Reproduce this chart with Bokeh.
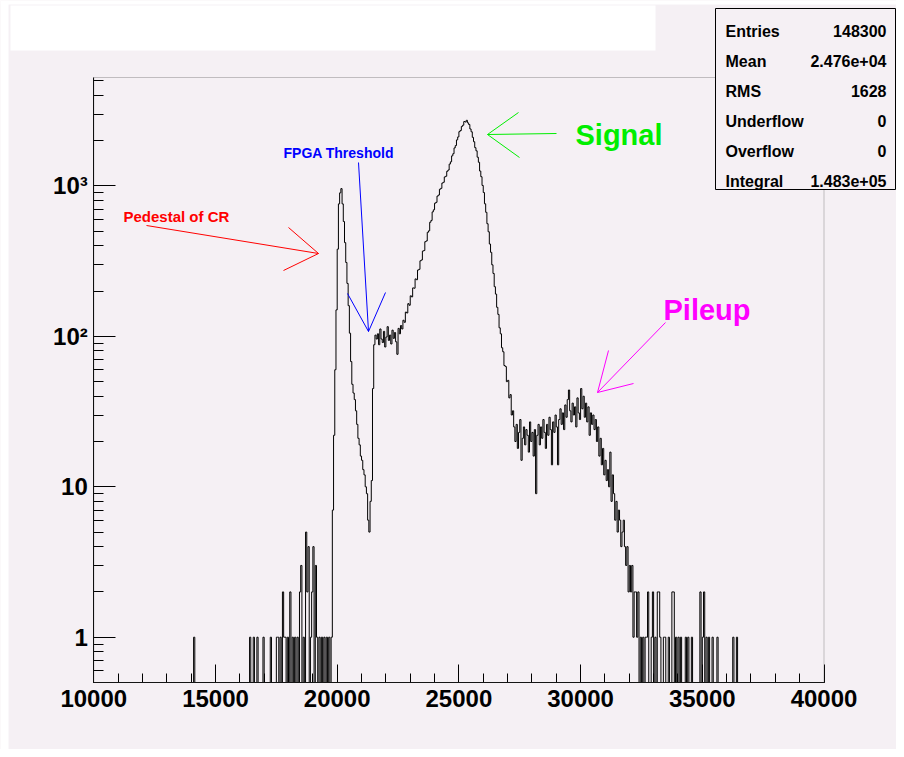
import numpy as np
from bokeh.plotting import figure
from bokeh.models import Range1d, FixedTicker, Label, Arrow, BoxAnnotation
from bokeh.embed import file_html
from bokeh.resources import INLINE

# ---------------- data ----------------
x_start, x_end = 10000, 40000
y_low, y_high = 0.5, 5260
bin_width = 50

# sparse left tail: bin low edges and counts
tail_low_edges = [14100, 16400, 16550, 16700, 16950, 17250, 17500, 17550, 17650, 17750,
                  17800, 17850, 17950, 18050, 18150, 18250, 18350, 18450, 18500, 18600,
                  18700, 18750, 18800, 18900, 18950, 19000, 19100, 19150, 19250, 19350,
                  19450, 19550, 19650]
tail_low_counts = [1, 1, 1, 1, 1, 1, 1, 1, 1, 2,
                   1, 1, 1, 2, 1, 1, 1, 2, 3, 1,
                   5, 2, 4, 1, 2, 4, 3, 1, 1, 1,
                   1, 1, 1]

# contiguous core, starting at this bin edge
core_first_edge = 19750
counts_pedestal = [1, 7, 22, 60, 150, 380, 760, 900, 960, 760,
                   580, 420, 310, 225, 160, 105, 68, 48, 42, 38,
                   32, 26, 21, 19, 16, 15, 13, 12, 10, 9,
                   6, 5, 8, 11, 45, 88, 102, 96]
counts_plateau = [104, 88, 112, 96, 91, 108, 85, 99, 116, 94,
                  102, 89, 110, 97, 106, 92, 76, 113, 104, 118]
counts_signal = [112, 128, 124, 145, 143, 165, 161, 186, 183, 210,
                 209, 241, 238, 276, 279, 318, 322, 369, 372, 426,
                 431, 492, 503, 574, 590, 672, 694, 768, 778, 856,
                 870, 951, 964, 1045, 1058, 1148, 1160, 1252, 1276, 1398,
                 1447, 1585, 1638, 1790, 1855, 2024, 2118, 2296, 2338, 2487,
                 2534, 2680, 2662, 2731, 2627, 2561, 2392, 2291, 2104, 1968,
                 1797, 1712, 1553, 1437, 1256, 1152, 1008, 904, 761, 668,
                 561, 496, 411, 362, 299, 262, 214, 191, 156, 140,
                 114, 104, 84, 79, 64, 63, 50, 51, 39, 41,
                 30, 32, 25]
counts_valley = [20, 26, 18, 23, 28, 15, 21, 25, 19, 24,
                 22, 17, 27, 20, 23, 16, 24, 9, 22, 26,
                 19, 25, 21, 28, 23, 18, 26, 22, 29, 24,
                 14, 27, 23, 30, 25, 14]
counts_pileup = [28, 33, 26, 31, 24, 35, 29, 38, 44, 32,
                 27, 36, 30, 34, 25, 39, 31, 28, 45, 33,
                 40, 29, 36, 27, 34, 22, 31, 26, 30, 24,
                 28, 20]
counts_falloff = [25, 16, 21, 14, 18, 12, 15, 11, 13, 10,
                  17, 8, 12, 9, 6, 8, 5, 7, 6, 4,
                  5, 6, 4, 3, 4, 2, 3, 2, 3, 1,
                  2]

# sparse right tail
tail_high_edges = [32250, 32300, 32350, 32450, 32550, 32650, 32700, 32750, 32900, 32950,
                   33050, 33150, 33200, 33250, 33400, 33450, 33600, 33750, 33800, 33900,
                   34000, 34100, 34300, 34400, 34550, 34900, 35000, 35050, 35150, 35250,
                   35400, 35600, 36250, 36400]
tail_high_counts = [2, 1, 2, 1, 1, 1, 1, 2, 1, 2,
                    1, 2, 2, 1, 1, 1, 1, 2, 2, 1,
                    1, 1, 1, 1, 1, 2, 1, 2, 1, 1,
                    1, 1, 1, 1]

x_tick_values = [10000, 15000, 20000, 25000, 30000, 35000, 40000]
x_tick_labels = ["10000", "15000", "20000", "25000", "30000", "35000", "40000"]
y_tick_values = [1, 10, 100, 1000]
y_tick_labels = ["1", "10", "10\u00b2", "10\u00b3"]

stats_names = ["Entries", "Mean", "RMS", "Underflow", "Overflow", "Integral"]
stats_values = ["148300", "2.476e+04", "1628", "0", "0", "1.483e+05"]

# ---------------- build the histogram ----------------
n_bins = (x_end - x_start) // bin_width
counts = np.zeros(n_bins)
for e, c in zip(tail_low_edges, tail_low_counts):
    counts[(e - x_start) // bin_width] = c
core = counts_pedestal + counts_plateau + counts_signal + counts_valley + counts_pileup + counts_falloff
i0 = (core_first_edge - x_start) // bin_width
counts[i0:i0 + len(core)] = core
for e, c in zip(tail_high_edges, tail_high_counts):
    counts[(e - x_start) // bin_width] = c

edges = x_start + bin_width * np.arange(n_bins + 1)
ys = np.where(counts > 0, counts, y_low)
ys = np.append(ys, ys[-1])

# ---------------- layout (canvas pixels) ----------------
BG = "#f5f0f4"
W, H = 896, 749
PL, PR, PT, PB = 93.3, 823.5, 77.0, 682.0      # inner plotting frame in canvas px

# the Bokeh frame covers the whole canvas; ranges extended so that the data
# range lands on the inner frame
ux = (x_end - x_start) / (PR - PL)
xr = Range1d(x_start - PL * ux, x_end + (W - PR) * ux)
ly0, ly1 = np.log10(y_low), np.log10(y_high)
uy = (ly1 - ly0) / (PB - PT)
yr = Range1d(10 ** (ly0 - (H - PB) * uy), 10 ** (ly1 + PT * uy))

FONT = "Liberation Sans"

p = figure(width=W, height=H, x_range=xr, y_range=yr, y_axis_type="log",
           output_backend="svg", toolbar_location=None,
           min_border=0, min_border_left=0, min_border_right=0,
           min_border_top=0, min_border_bottom=0,
           background_fill_color=BG, border_fill_color=BG)
p.title.visible = False
p.grid.visible = False
p.outline_line_color = None

# white page strips and empty title box
def sx(X):
    return X
def sy(Y):
    return H - Y

def box(x0, y0, x1, y1, fill, line, fill_alpha=1.0):
    p.add_layout(BoxAnnotation(left=sx(x0), right=sx(x1), top=sy(y0), bottom=sy(y1),
                               left_units="screen", right_units="screen",
                               top_units="screen", bottom_units="screen",
                               fill_color=fill, fill_alpha=fill_alpha,
                               line_color=line if line else "black",
                               line_width=1, line_alpha=1 if line else 0))

box(0, 0, 8, H, "white", None)
box(0, 0, W, 4, "white", None)
box(10, 5, 655, 50, "white", None)

# inner frame (top / right edges)
p.add_layout(BoxAnnotation(left=x_start, right=x_end, bottom=y_low, top=y_high,
                           fill_alpha=0, line_color="#444444", line_width=1))

p.step(x=edges, y=ys, mode="after", line_color="black", line_width=1)

# x axis
xa = p.xaxis[0]
xa.fixed_location = y_low
xa.bounds = (x_start, x_end)
xa.ticker = FixedTicker(ticks=x_tick_values,
                        minor_ticks=list(range(x_start, x_end + 1, 1000)))
xa.major_label_overrides = {v: t for v, t in zip(x_tick_values, x_tick_labels)}
xa.major_tick_in, xa.major_tick_out = 18, 0
xa.minor_tick_in, xa.minor_tick_out = 9, 0
xa.major_label_standoff = 7
xa.major_label_text_font = FONT
xa.major_label_text_font_style = "bold"
xa.major_label_text_font_size = "24px"
xa.major_label_text_color = "black"
xa.axis_line_color = "black"

# y axis
ya = p.yaxis[0]
ya.fixed_location = x_start
ya.bounds = (y_low, y_high)
minor_y = [m * 10 ** k for k in range(-1, 4) for m in range(2, 10) if y_low <= m * 10 ** k <= y_high]
ya.ticker = FixedTicker(ticks=y_tick_values, minor_ticks=minor_y)
ya.major_label_overrides = {v: t for v, t in zip(y_tick_values, y_tick_labels)}
ya.major_tick_in, ya.major_tick_out = 22, 0
ya.minor_tick_in, ya.minor_tick_out = 10, 0
ya.major_label_standoff = 6
ya.major_label_text_font = FONT
ya.major_label_text_font_style = "bold"
ya.major_label_text_font_size = "24px"
ya.major_label_text_color = "black"
ya.axis_line_color = "black"

def seg(x0, y0, x1, y1, color):
    p.add_layout(Arrow(x_start=sx(x0), y_start=sy(y0), x_end=sx(x1), y_end=sy(y1),
                       start_units="screen", end_units="screen", start=None, end=None,
                       line_color=color, line_width=1))

def text(X, Y, s, color, size, align="left"):
    p.add_layout(Label(x=sx(X), y=sy(Y), x_units="screen", y_units="screen", text=s,
                       text_color=color, text_font=FONT, text_font_size=size,
                       text_font_style="bold", text_align=align, text_baseline="alphabetic"))

# statistics box
box(715, 8, W - 1, 189, BG, "black")
for k, (n, v) in enumerate(zip(stats_names, stats_values)):
    yb = 30.7 + 30 * k
    text(725, yb, n, "black", "16px")
    text(886, yb, v, "black", "16px", align="right")

# annotations
RED, BLUE, GREEN, MAG = "#ff0000", "#0000ff", "#00ee00", "#ff00ff"
text(123, 216, "Pedestal of  CR", RED, "15px")
seg(146, 225, 318, 253, RED); seg(318, 253, 288, 227, RED); seg(318, 253, 283, 270, RED)

text(283, 152, "FPGA Threshold", BLUE, "14px")
seg(358, 162, 368, 331, BLUE); seg(368, 331, 347, 293, BLUE); seg(368, 331, 385, 292, BLUE)

text(575, 134, "Signal", GREEN, "29px")
seg(556, 133, 487, 134, GREEN); seg(487, 134, 518, 112, GREEN); seg(487, 134, 519, 157, GREEN)

text(663, 309, "Pileup", MAG, "29px")
seg(665, 322, 597, 392, MAG); seg(597, 392, 608, 350, MAG); seg(597, 392, 633, 383, MAG)

open("out.html", "w").write(file_html(p, INLINE))
